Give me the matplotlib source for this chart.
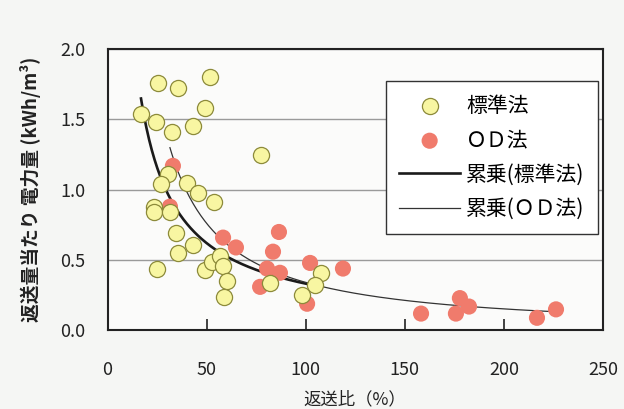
# coding=UTF-8

import numpy as np
import matplotlib.pyplot as plt

plt.rcParams['font.family'] = ['Noto Sans CJK JP', 'DejaVu Sans']

# 標準法 (return ratio %, kWh per m3)
x_std = [16.9, 25.5, 35.6, 51.7, 49.2, 24.5, 32.5, 43.1, 77.4, 30.5,
         27.0, 40.1, 45.7, 53.7, 23.5, 23.5, 31.5, 34.6, 43.1, 35.6,
         25.0, 49.2, 52.7, 56.7, 58.3, 60.3, 58.8, 82.0, 107.7, 104.7, 98.1]
y_std = [1.54, 1.76, 1.72, 1.80, 1.58, 1.48, 1.41, 1.45, 1.25, 1.11,
         1.04, 1.05, 0.98, 0.91, 0.88, 0.84, 0.84, 0.69, 0.61, 0.55,
         0.44, 0.43, 0.49, 0.53, 0.46, 0.35, 0.24, 0.34, 0.41, 0.32, 0.25]

# OD法
x_od = [33.0, 31.5, 58.3, 64.8, 86.5, 83.5, 80.5, 87.0, 77.0, 102.2,
        100.7, 118.8, 158.2, 177.8, 182.4, 175.8, 216.7, 226.3]
y_od = [1.17, 0.88, 0.66, 0.59, 0.70, 0.56, 0.44, 0.41, 0.31, 0.48,
        0.19, 0.44, 0.12, 0.23, 0.17, 0.12, 0.09, 0.15]

# power trend lines y = a * x^b
std_a, std_b = 21.0, -0.90
od_a, od_b = 70.1, -1.156

x_ticks = [0, 50, 100, 150, 200, 250]
y_ticks = [0.0, 0.5, 1.0, 1.5, 2.0]

fig = plt.figure(figsize=(6.24, 4.09), dpi=100, facecolor='#f5f6f4')
ax = fig.add_axes([0.1723, 0.1920, 0.7940, 0.6880])
ax.set_facecolor('#fbfbfa')

xs = np.linspace(min(x_std), max(x_std), 200)
xo = np.linspace(min(x_od), max(x_od), 200)
l1, = ax.plot(xs, std_a * xs ** std_b, color='#1a1a1a', lw=1.9, zorder=2)
l2, = ax.plot(xo, od_a * xo ** od_b, color='#333333', lw=0.9, zorder=2)

p2 = ax.scatter(x_od, y_od, s=135, c='#f07b6c', edgecolors='none', zorder=3)
p1 = ax.scatter(x_std, y_std, s=135, c='#f8f6a2', edgecolors='#8c8a3a',
                linewidths=0.9, zorder=4)

ax.set_xlim(0, 250)
ax.set_ylim(0, 2.0)
ax.set_xticks(x_ticks)
ax.set_yticks(y_ticks)
ax.set_xticklabels([str(v) for v in x_ticks])
ax.set_yticklabels(['%.1f' % v for v in y_ticks])
ax.tick_params(axis='x', direction='in', length=8, width=1.2, pad=22,
               labelsize=13, colors='#222222')
ax.tick_params(axis='y', length=0, pad=16, labelsize=13, colors='#222222')
ax.grid(axis='y', color='#9a9a9a', lw=1.0)
ax.set_axisbelow(True)
for sp in ax.spines.values():
    sp.set_linewidth(1.5)
    sp.set_color('#222222')

ax.set_xlabel('返送比（%）', fontsize=12.5, labelpad=8, color='#222222')
ax.set_ylabel('返送量当たり 電力量 (kWh/m³)', fontsize=13.5, fontweight='bold',
              labelpad=14, color='#222222')

leg = ax.legend([p1, p2, l1, l2], ['標準法', 'ＯＤ法', '累乗(標準法)', '累乗(ＯＤ法)'],
                loc='upper right', bbox_to_anchor=(0.99, 0.886), fontsize=15,
                frameon=True, fancybox=False, edgecolor='#333333',
                handlelength=2.9, labelspacing=0.6, borderpad=0.65,
                handletextpad=0.3, borderaxespad=0)
leg.get_frame().set_linewidth(1.0)
leg.get_frame().set_facecolor('white')
leg.get_frame().set_alpha(1)

plt.savefig('out.png', dpi=100, facecolor=fig.get_facecolor())
